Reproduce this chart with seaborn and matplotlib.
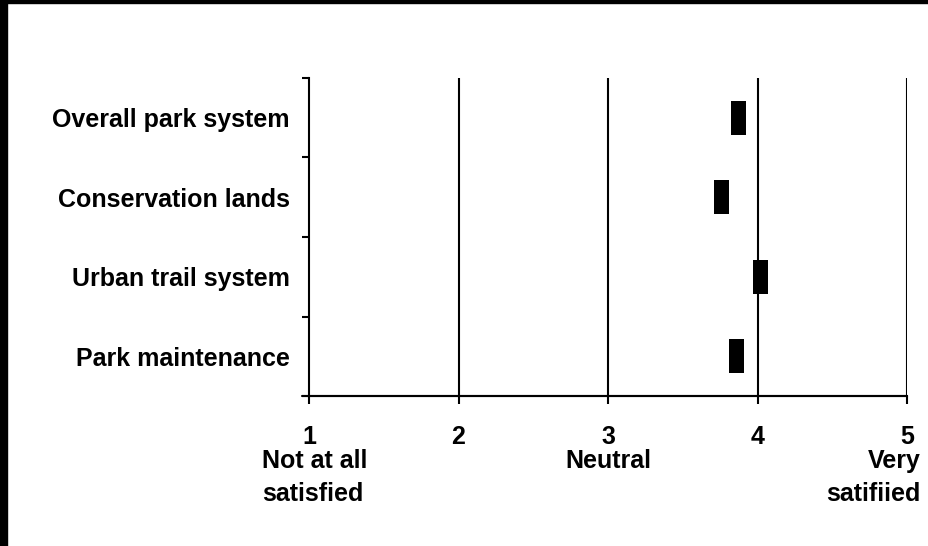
import matplotlib
matplotlib.use('Agg')
import matplotlib.pyplot as plt
import seaborn as sns
import pandas as pd
from matplotlib.path import Path
from matplotlib.patches import Rectangle

items = ['Overall park system', 'Conservation lands', 'Urban trail system', 'Park maintenance']
scores = [3.87, 3.76, 4.02, 3.86]
x_ticks = [1, 2, 3, 4, 5]
scale_notes = {1: 'Not at all\nsatisfied', 3: 'Neutral', 5: 'Very\nsatifiied'}

df = pd.DataFrame({'item': items, 'score': scores})

sns.set_style('white')
plt.rcParams['font.family'] = ['Liberation Sans', 'DejaVu Sans']
plt.rcParams['font.weight'] = 'bold'
plt.rcParams['text.color'] = 'black'
plt.rcParams['xtick.color'] = 'black'
plt.rcParams['ytick.color'] = 'black'

fs = 18

fig = plt.figure(figsize=(9.29, 5.46), dpi=100)
ax = fig.add_axes([309 / 929, 1 - 396 / 546, 598 / 929, 318 / 546])

# tall narrow block used as marker
rect = Path([(-0.22, -0.5), (0.22, -0.5), (0.22, 0.5), (-0.22, 0.5), (-0.22, -0.5)])
sns.scatterplot(data=df, x='score', y='item', marker=rect, s=600, color='black',
                edgecolor='none', linewidth=0, ax=ax, zorder=5)

ax.set_xlim(1, 5)
ax.set_ylim(3.5, -0.5)
ax.set_xlabel('')
ax.set_ylabel('')

for s in ['top', 'right']:
    ax.spines[s].set_visible(False)
for s in ['left', 'bottom']:
    ax.spines[s].set_linewidth(1.5)
    ax.spines[s].set_color('black')

for x in x_ticks[1:]:
    ax.axvline(x, color='black', lw=1.5, zorder=1)
ax.axhline(3.5, xmin=-0.012, xmax=1, color='black', lw=1.5, clip_on=False)

ax.set_xticks(x_ticks)
ax.set_xticklabels([str(t) for t in x_ticks], fontsize=fs, fontweight='bold', color='black')
ax.tick_params(axis='x', direction='out', length=6, width=1.5, pad=15, bottom=True)

ax.set_yticks(range(len(items)))
ax.set_yticklabels(items, fontsize=fs, fontweight='bold', color='black')
ax.tick_params(axis='y', which='major', length=0, pad=14)
ax.set_yticks([-0.5, 0.5, 1.5, 2.5, 3.5], minor=True)
ax.tick_params(axis='y', which='minor', direction='out', length=5, width=1.5, left=True)

for x, txt in scale_notes.items():
    ha = {1: 'left', 3: 'center', 5: 'right'}[x]
    dx = {1: -47, 3: 0, 5: 14}[x]
    ax.annotate(txt, xy=(x, 0), xycoords=('data', 'axes fraction'),
                xytext=(dx, -53), textcoords='offset pixels',
                ha=ha, va='top', multialignment=ha, fontsize=fs,
                fontweight='bold', color='black', linespacing=1.45)

# black frame edges on the left and top
fig.patches.append(Rectangle((0, 0), 7 / 929, 1, transform=fig.transFigure,
                             color='black', zorder=0))
fig.patches.append(Rectangle((0, 1 - 3 / 546), 1, 3 / 546, transform=fig.transFigure,
                             color='black', zorder=0))

fig.savefig('out.png', dpi=100)
